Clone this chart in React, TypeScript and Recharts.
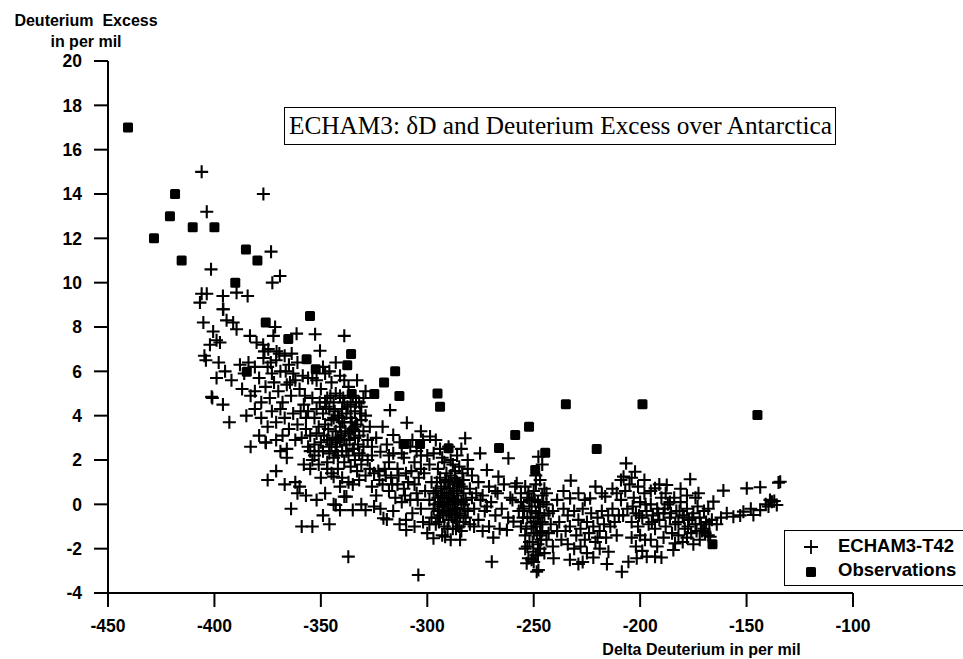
import { Scatter, ScatterChart, XAxis, YAxis } from 'recharts'

// Delta Deuterium (x) vs Deuterium Excess (y), both per mil.
const tailPairs: [number, number][] = [
  [-406, 15.0], [-377, 14.0], [-403.6, 13.2], [-373.4, 11.4], [-401.6, 10.6], [-369.2, 10.3],
  [-372.8, 10.0], [-406, 9.5], [-403.6, 9.5], [-406.8, 9.1], [-396, 9.4], [-389.6, 9.55],
  [-384.4, 9.4], [-396, 8.8], [-405.2, 8.2], [-394.3, 8.3], [-391.2, 8.2], [-389.6, 7.9],
  [-400.6, 7.8], [-399, 7.4], [-397.4, 7.3], [-402.1, 7.2], [-383.3, 7.6], [-380.2, 7.3],
  [-377.1, 7.2], [-371.5, 8.0], [-372.3, 7.6], [-361.4, 7.7], [-404.7, 6.7], [-374.7, 7.0],
  [-370.8, 6.9], [-363.7, 6.8], [-339, 7.6], [-352.7, 7.67], [-350.4, 6.93], [-395.8, 8.8],
]

const upperBandPairs: [number, number][] = [
  [-398, 6.4], [-395, 6.0], [-392, 5.6], [-388, 6.3], [-386, 5.9], [-384, 6.4], [-381, 6.2],
  [-379, 5.7], [-377, 6.6], [-375, 6.2], [-373, 5.9], [-371, 6.5], [-369, 6.0], [-367, 6.7],
  [-365, 6.3], [-363, 5.9], [-361, 6.4], [-387, 5.2], [-383, 4.9], [-381, 5.1], [-378, 4.6],
  [-376, 5.3], [-374, 4.8], [-372, 5.5], [-370, 5.1], [-368, 4.6], [-366, 5.4], [-364, 4.9],
  [-362, 5.6], [-360, 5.2], [-385, 4.0], [-381, 4.3], [-378, 3.9], [-375, 3.5], [-373, 4.2],
  [-371, 3.7], [-369, 4.3], [-367, 3.9], [-365, 3.4], [-363, 4.1], [-361, 3.6], [-379, 3.1],
  [-376, 2.8], [-371, 2.9], [-368, 3.1], [-366, 2.5], [-362, 2.9], [-383, 2.6], [-393, 3.7],
  [-396, 4.5], [-401, 4.8], [-399, 5.7], [-404, 6.5], [-401.3, 4.85], [-375.8, 2.78],
  [-376.5, 6.9], [-373.5, 6.4], [-369.5, 6.8], [-366.5, 6.0], [-364.5, 5.5], [-358.5, 5.8],
  [-357.5, 4.9], [-359.5, 4.2],
]

const lowerBranchPairs: [number, number][] = [
  [-375, 1.1], [-371, 1.5], [-369, 2.4], [-366, 2.1], [-367, 0.9], [-364, -0.2], [-362, 1.0],
  [-360, 0.8], [-361, 0.5], [-357, 0.4], [-359, -1.0], [-354, -1.0], [-356, 2.6], [-354, 2.0],
  [-355, 1.6], [-349, -0.5], [-348, 0.5], [-347, 1.6], [-344, 1.25], [-344, 0.0], [-341, -0.26],
  [-341, 0.8], [-339, 0.35], [-338, 0.35], [-335, -0.26], [-335, 0.9], [-332, 1.1], [-343, -0.03],
  [-331, 0.0], [-329, -0.26], [-325, -0.1], [-352, 0.2], [-346, -0.9], [-350, 1.2], [-358, 1.8],
  [-351, 2.4], [-337.1, -2.36],
]

const clusterOnePairs: [number, number][] = [
  [-356, 5.7], [-354, 5.7], [-348, 5.9], [-352, 4.3], [-350, 5.2], [-347, 4.8], [-345, 5.5],
  [-343, 5.0], [-341, 5.8], [-339, 4.6], [-337, 5.3], [-335, 4.9], [-333, 5.6], [-331, 4.4],
  [-329, 5.1], [-354, 4.8], [-353, 3.9], [-351, 3.5], [-349, 4.1], [-348, 3.6], [-346, 4.3],
  [-345, 3.8], [-344, 4.6], [-343, 3.3], [-342, 4.0], [-341, 3.5], [-340, 4.3], [-339, 3.7],
  [-338, 4.1], [-337, 3.2], [-336, 3.9], [-335, 3.4], [-334, 4.2], [-333, 3.6], [-332, 3.1],
  [-331, 3.8], [-330, 3.3], [-329, 4.0], [-328, 2.9], [-327, 3.5], [-326, 2.6], [-355, 3.1],
  [-353, 2.7], [-352, 3.2], [-350, 2.8], [-349, 2.4], [-347, 2.9], [-346, 2.3], [-345, 2.7],
  [-344, 2.1], [-343, 2.6], [-342, 2.2], [-341, 2.9], [-340, 2.4], [-339, 1.9], [-338, 2.7],
  [-337, 2.2], [-336, 1.7], [-335, 2.5], [-334, 2.0], [-333, 1.5], [-332, 2.3], [-331, 1.8],
  [-330, 2.6], [-329, 1.3], [-328, 2.0], [-327, 1.6], [-326, 2.2], [-325, 1.4], [-357, 3.9],
  [-358, 4.5], [-356, 4.2], [-352, 5.6], [-349, 6.2], [-346, 6.0], [-343, 6.4], [-341, 4.9],
  [-339, 5.6], [-336, 4.5], [-334, 3.0], [-332, 4.6], [-330, 4.8], [-347, 1.9], [-345, 1.4],
  [-342, 1.6], [-340, 1.2], [-337, 1.0], [-351, 1.8], [-353, 2.2], [-355, 2.4], [-357, 3.4],
  [-359, 3.0],
  [-350.5, 4.6], [-348.5, 3.1], [-347.5, 4.4], [-346.5, 3.4], [-345.5, 4.9], [-344.5, 3.0],
  [-343.5, 4.2], [-342.5, 2.8], [-341.5, 3.9], [-340.5, 3.1], [-339.5, 4.8], [-338.5, 3.3],
  [-337.5, 4.4], [-336.5, 2.9], [-335.5, 3.7], [-334.5, 2.5], [-333.5, 4.6], [-332.5, 2.7],
  [-331.5, 4.1], [-330.5, 2.2], [-342, 3.0], [-340, 3.7], [-338, 2.4], [-344, 3.9], [-346, 2.6],
  [-348, 4.6], [-336, 3.3], [-334, 3.5], [-339, 2.9], [-343, 2.4],
]

const middlePairs: [number, number][] = [
  [-317.5, 4.25], [-309.6, 3.68], [-316, 3.13], [-322, 2.37], [-324, 3.0], [-321, 3.5],
  [-319, 2.7], [-318, 1.9], [-316, 2.3], [-314, 1.6], [-313, 2.8], [-311, 2.1], [-310, 1.4],
  [-308, 2.6], [-306, 1.9], [-305, 2.4], [-303, 1.6], [-302, 2.9], [-300, 2.2], [-323, 1.5],
  [-321, 0.9], [-320, 1.6], [-318, 0.6], [-317, 1.2], [-315, 0.3], [-314, 0.9], [-312, 0.1],
  [-311, 0.7], [-309, 1.0], [-308, 0.2], [-307, -0.4], [-305, 0.5], [-304, 1.2], [-303, -0.2],
  [-301, 0.6], [-320.6, -0.63], [-319, -0.68], [-316, -0.3], [-313, -0.9], [-310, -0.7],
  [-309.9, -1.16], [-306, -1.0], [-304.2, -3.19], [-302, -0.8], [-300, -1.3], [-324, 0.4],
  [-322, -0.2], [-326, 0.8], [-298.7, 3.06], [-303, 3.3], [-307, 2.9],
  [-322.5, 1.1], [-319.5, 1.3], [-316.5, 0.9], [-313.5, 1.3], [-310.5, 0.4], [-307.5, 1.5],
  [-304.5, 0.2], [-301.5, 1.4], [-312, 2.3], [-318, 2.2], [-306, 0.9], [-303, 2.2],
]

const clusterTwoPairs: [number, number][] = [
  [-299, 1.8], [-297, 2.3], [-295, 1.6], [-293, 2.1], [-291, 1.4], [-289, 2.0], [-287, 1.2],
  [-285, 1.7], [-283, 1.1], [-281, 1.6], [-298, 1.0], [-296, 0.6], [-294, 1.2], [-292, 0.8],
  [-290, 0.3], [-288, 0.9], [-286, 0.4], [-284, 0.8], [-282, 0.2], [-280, 0.7], [-299, 0.2],
  [-297, -0.2], [-295, 0.3], [-293, -0.1], [-291, 0.5], [-289, -0.3], [-287, 0.1], [-285, -0.4],
  [-283, 0.0], [-281, -0.3], [-298, -0.6], [-296, -0.9], [-294, -0.5], [-292, -1.0], [-290, -0.7],
  [-288, -1.1], [-286, -0.8], [-284, -1.2], [-282, -0.6], [-280, -0.9], [-297.1, -1.53],
  [-291.6, -1.46], [-284.6, -1.6], [-289, -1.6], [-293, -1.4], [-287, 1.5], [-286, 2.2],
  [-284, 2.5], [-290, 2.6], [-292, 1.9], [-288, 1.8], [-294, 0.1], [-290, 1.0], [-286, -0.2],
  [-283, 0.5], [-279, 0.3], [-278, -0.2], [-277, 0.5], [-279, 1.3], [-281, 2.0], [-296, 2.9],
  [-294, 2.5], [-291, 0.0], [-289, 0.5], [-287, -0.6], [-285, 0.9], [-283, -0.8], [-295, -0.3],
  [-297, 0.5], [-299, -0.9], [-288, 0.2], [-292, 0.3], [-290, -0.3], [-286, 1.0], [-284, 0.1],
  [-296.5, 0.0], [-295.5, 1.0], [-294.5, -0.8], [-293.5, 0.7], [-292.5, -0.4], [-291.5, 1.1],
  [-290.5, -1.1], [-289.5, 0.7], [-288.5, -0.5], [-287.5, 0.6], [-286.5, -1.1], [-285.5, 0.2],
  [-284.5, -0.5], [-283.5, 1.4], [-282.5, -0.2], [-290, 0.1], [-288, -0.2], [-292, 0.0],
  [-286, 0.6], [-289, 1.3], [-291, -0.4], [-287, -0.2], [-285, -1.0], [-293, 0.4], [-295, -0.6],
]

const gapPairs: [number, number][] = [
  [-282.2, 2.98], [-275.2, 2.3], [-272, 1.55], [-266.6, 1.25], [-261.9, 2.08], [-258.7, 0.8],
  [-276, 1.0], [-274, 0.4], [-273, -0.3], [-271, 0.8], [-270, 0.1], [-268, -0.5], [-267, 0.5],
  [-265, -0.2], [-264, 0.9], [-262, -0.6], [-261, 0.3], [-259.5, -0.78], [-276, -0.7],
  [-274, -1.2], [-271, -1.0], [-269, -1.5], [-266, -1.1], [-262.6, -1.16], [-269.7, -2.59],
  [-268, 0.6], [-272, -0.1], [-275, 0.2], [-278, -1.0], [-258, 0.95], [-260, 0.2], [-257, -0.3],
]

const columnPairs: [number, number][] = [
  [-256, 0.5], [-255, -0.2], [-254, 0.8], [-253, -0.6], [-252, 0.2], [-251, -1.0], [-250, 0.6],
  [-249, -0.4], [-248, 0.1], [-247, -0.9], [-246, 0.4], [-245, -0.5], [-244, 0.0], [-256, -1.0],
  [-254, -1.4], [-252, -1.7], [-250, -1.3], [-248, -1.8], [-246, -1.2], [-244, -1.6], [-255, -0.6],
  [-253, 0.3], [-251, -0.3], [-249, 0.9], [-247, -0.1], [-245, 0.7], [-243, -0.4], [-253.3, -2.66],
  [-247.8, -2.96], [-252.5, -2.43], [-250.2, -2.14], [-249, -2.3], [-247, -2.0], [-245, -2.2],
  [-247, 1.1], [-247.8, 2.15], [-246, 1.8], [-249, 1.3], [-251, -2.5], [-248.6, -3.04],
  [-254, -2.0], [-250, -0.8], [-252, -0.1], [-248, -0.6], [-246, -0.8], [-256, 0.1], [-244, 0.5],
  [-242, -0.9], [-243, -1.3],
  [-254.5, -0.3], [-253.5, -1.1], [-252.5, 0.5], [-251.5, -0.6], [-250.5, -1.7], [-249.5, 0.2],
  [-248.5, -1.3], [-247.5, -0.4], [-246.5, -1.6], [-245.5, 0.1], [-251, 0.2], [-249, -1.0],
  [-247, -1.4], [-253, -1.9], [-250, -2.6], [-248, -2.3],
]

const midRightPairs: [number, number][] = [
  [-240.7, -2.43], [-232.6, 1.07], [-232.9, 0.27], [-223.5, 0.27], [-216.4, 0.35], [-229, -2.69],
  [-215.6, -2.69], [-214.9, -2.14], [-241, -0.3], [-239, 0.2], [-238, -0.8], [-236, -0.2],
  [-235, -1.2], [-234, -0.5], [-233, -1.0], [-231, -0.3], [-230, -1.4], [-229, -0.7], [-228, -1.1],
  [-227, -0.2], [-226, -1.6], [-225, -0.8], [-224, -1.3], [-223, -0.4], [-222, -1.0], [-221, -1.7],
  [-220, -0.6], [-219, -1.2], [-218, -0.3], [-217, -0.9], [-216, -1.5], [-215, -0.5], [-214, -1.0],
  [-213, -0.2], [-212, -0.8], [-211, -1.4], [-237, -1.6], [-234, -1.8], [-231, -2.0], [-228, -1.9],
  [-225, -2.2], [-222, -2.4], [-219, -2.0], [-236, 0.6], [-229, 0.5], [-226, 0.2], [-221, 0.8],
  [-218, 0.5], [-213, 0.7], [-239, -1.2], [-241, -1.9], [-227, -2.6], [-220, -1.5], [-233, -2.5],
]

const rightPairs: [number, number][] = [
  [-206.6, 1.85], [-202.4, 1.47], [-207.8, 1.25], [-208.6, -3.04], [-205.5, -2.59], [-201.6, -2.43],
  [-196.9, -2.36], [-193, -2.36], [-190, -2.4], [-197.7, -1.6], [-193, 0.72], [-187.5, 0.87],
  [-209, 0.2], [-208, -0.5], [-207, 0.6], [-206, -0.2], [-205, 0.9], [-204, -0.8], [-203, 0.3],
  [-202, -0.4], [-201, -1.0], [-200, 0.1], [-199, -0.6], [-198, 0.5], [-197, -0.3], [-196, -0.9],
  [-195, 0.0], [-194, -0.5], [-193, -1.1], [-192, -0.2], [-191, -0.7], [-190, 0.3], [-189, -0.4],
  [-188, -1.0], [-187, 0.0], [-186, -0.6], [-185, -1.3], [-204, -1.5], [-202, -1.9], [-200, -1.4],
  [-199, -2.1], [-195, -1.6], [-192, -1.9], [-189, -1.5], [-204, 1.2], [-201, 0.8], [-198, 1.1],
  [-195, 0.6], [-191, 0.9], [-188, 0.5], [-210, -0.5], [-211, 0.5], [-209, 1.1],
  [-203.5, -0.1], [-200.5, -0.5], [-197.5, 0.0], [-194.5, -0.8], [-191.5, -0.4], [-188.5, -0.2],
  [-185.5, -0.4],
]

const farRightPairs: [number, number][] = [
  [-176.5, 1.13], [-183.6, -1.76], [-184.4, -2.06], [-172.6, 0.5], [-184, 0.3], [-183, -0.3],
  [-182, -0.8], [-181, 0.1], [-180, -0.5], [-179, -1.1], [-178, -0.2], [-177, -0.7], [-176, -1.3],
  [-175, -0.4], [-174, -0.9], [-173, -0.1], [-172, -0.6], [-171, -1.2], [-170, -0.3], [-169, -0.8],
  [-168, -1.4], [-167.1, -1.46], [-166.3, -0.7], [-165.6, 0.12], [-182, -1.4], [-180, -1.7],
  [-178, -1.5], [-175, -1.8], [-172, -1.6], [-170, -1.1], [-168, -0.2], [-181, 0.7], [-178, 0.4],
  [-174, 0.3], [-186, 0.1],
  [-183.5, -0.9], [-181.5, -0.3], [-179.5, -0.6], [-177.5, -1.0], [-175.5, -0.6], [-173.5, -1.2],
  [-171.5, -0.9], [-169.5, -1.3], [-167.5, -0.9],
]

const tailRightPairs: [number, number][] = [
  [-160.9, 0.62], [-149.9, 0.72], [-143.6, 0.77], [-135, 0.98], [-134.2, 1.02], [-139, 0.2],
  [-138.1, 0.12], [-139.7, -0.1], [-135.8, -0.03], [-143.6, -0.26], [-146.8, -0.48], [-151.5, -0.33],
  [-156.2, -0.56], [-159.3, -0.4], [-162, -0.6], [-164, -0.9], [-141, 0.0], [-137, 0.15],
  [-153, -0.5], [-148, -0.2],
]

const observationPairs: [number, number][] = [
  [-440.6, 17.0], [-428.4, 12.0], [-420.9, 13.0], [-418.5, 14.0], [-415.4, 11.0], [-410.2, 12.5],
  [-400, 12.5], [-390.2, 10.0], [-385.2, 11.5], [-379.8, 11.0], [-375.9, 8.2], [-355.1, 8.5],
  [-365.3, 7.46], [-356.7, 6.55], [-352.4, 6.09], [-384.8, 5.98], [-335.8, 6.78], [-337.6, 6.28],
  [-335.5, 4.98], [-324.9, 4.98], [-320.3, 5.5], [-315.1, 6.0], [-313.1, 4.89], [-295.2, 5.0],
  [-294, 4.4], [-310.8, 2.72], [-303.4, 2.72], [-290, 2.53], [-266.3, 2.54], [-258.7, 3.13],
  [-252.2, 3.5], [-244.6, 2.33], [-249.3, 1.55], [-234.9, 4.51], [-220.4, 2.5], [-198.9, 4.51],
  [-166, -1.8], [-144.9, 4.03],
]

const xTicks = [-450, -400, -350, -300, -250, -200, -150, -100]
const yTicks = [-4, -2, 0, 2, 4, 6, 8, 10, 12, 14, 16, 18, 20]

const toPoints = (pairs: [number, number][]) => pairs.map(([x, y]) => ({ x, y }))

const modelPoints = toPoints([
  ...tailPairs, ...upperBandPairs, ...lowerBranchPairs, ...clusterOnePairs, ...middlePairs,
  ...clusterTwoPairs, ...gapPairs, ...columnPairs, ...midRightPairs, ...rightPairs,
  ...farRightPairs, ...tailRightPairs,
])
const observationPoints = toPoints(observationPairs)

const SANS = '"Liberation Sans", Arial, Helvetica, sans-serif'
const SERIF = '"Liberation Serif", "Times New Roman", serif'

function CrossMark({ cx, cy }: { cx?: number; cy?: number }) {
  if (cx == null || cy == null) return null
  const h = 6.5
  return <path d={`M${cx - h},${cy}H${cx + h}M${cx},${cy - h}V${cy + h}`} stroke="#000" strokeWidth={2.1} fill="none" />
}

function SquareMark({ cx, cy }: { cx?: number; cy?: number }) {
  if (cx == null || cy == null) return null
  return <rect x={cx - 5} y={cy - 5} width={10} height={10} rx={1.5} fill="#000" />
}

const tickStyle = { fill: '#000', fontSize: 17.5, fontWeight: 700, fontFamily: SANS }
const lineStyle = { stroke: '#000', strokeWidth: 2 }

export default function App() {
  return (
    <div style={{ position: 'absolute', left: 0, top: 0, width: 963, height: 659, overflow: 'hidden', background: '#fff' }}>
      <ScatterChart width={963} height={659} margin={{ top: 61, right: 110, bottom: 26, left: 0 }}>
        <XAxis
          type="number"
          dataKey="x"
          domain={[-450, -100]}
          ticks={xTicks}
          height={40}
          tickSize={14}
          tickMargin={13}
          axisLine={lineStyle}
          tickLine={lineStyle}
          tick={tickStyle}
        />
        <YAxis
          type="number"
          dataKey="y"
          domain={[-4, 20]}
          ticks={yTicks}
          width={108}
          tickSize={14}
          tickMargin={12}
          axisLine={lineStyle}
          tickLine={lineStyle}
          tick={tickStyle}
        />
        <Scatter name="ECHAM3-T42" data={modelPoints} shape={<CrossMark />} isAnimationActive={false} />
        <Scatter name="Observations" data={observationPoints} shape={<SquareMark />} isAnimationActive={false} />
      </ScatterChart>

      <div style={{ position: 'absolute', left: 0, top: 10, width: 172, textAlign: 'center', fontFamily: SANS, fontWeight: 700, fontSize: 16, lineHeight: '21px', color: '#000', whiteSpace: 'pre' }}>
        {'Deuterium  Excess\nin per mil'}
      </div>

      <div style={{ position: 'absolute', left: 598, top: 641, width: 207, textAlign: 'center', fontFamily: SANS, fontWeight: 700, fontSize: 16, color: '#000', whiteSpace: 'nowrap' }}>
        Delta Deuterium in per mil
      </div>

      <div style={{ position: 'absolute', left: 284, top: 107, width: 552, height: 38, boxSizing: 'border-box', border: '1.5px solid #000', fontFamily: SERIF, fontSize: 25.3, lineHeight: '35px', paddingLeft: 4, color: '#000', whiteSpace: 'nowrap' }}>
        ECHAM3: δD and Deuterium Excess over Antarctica
      </div>

      <div style={{ position: 'absolute', left: 784, top: 530, width: 200, height: 56, boxSizing: 'border-box', border: '1.5px solid #000', background: '#fff' }}>
        <svg width={22} height={50} style={{ position: 'absolute', left: 15, top: 2 }}>
          <path d="M4,14H18M11,7V21" stroke="#000" strokeWidth={1.8} />
          <rect x={6} y={34} width={10} height={10} rx={1.5} fill="#000" />
        </svg>
        <div style={{ position: 'absolute', left: 53, top: 3, fontFamily: SANS, fontWeight: 700, fontSize: 18.5, lineHeight: '24px', color: '#000', whiteSpace: 'nowrap' }}>
          ECHAM3-T42
        </div>
        <div style={{ position: 'absolute', left: 53, top: 27, fontFamily: SANS, fontWeight: 700, fontSize: 18.5, lineHeight: '24px', color: '#000', whiteSpace: 'nowrap' }}>
          Observations
        </div>
      </div>
    </div>
  )
}
